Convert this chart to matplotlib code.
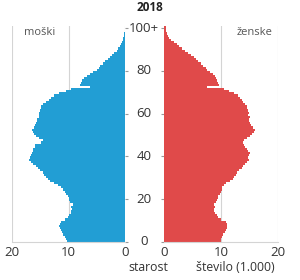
import matplotlib
matplotlib.use("Agg")
from matplotlib import pyplot as plt

plt.rcParams["font.family"] = ["Open Sans", "DejaVu Sans"]

# Population of Slovenia by age, 2018 (thousands).
ages = list(range(101))
men = [10.3, 10.5, 10.6, 10.9, 11.1, 11.3, 11.5, 11.7, 11.6, 11.4,
       10.6, 10.1, 9.9, 9.6, 9.5, 9.4, 9.5, 9.3, 9.8, 9.9,
       9.9, 10.1, 10.4, 10.6, 11.0, 11.3, 11.8, 12.5, 13.2, 13.7,
       14.0, 14.3, 14.6, 15.0, 15.4, 15.8, 16.2, 16.6, 17.0, 16.9,
       16.7, 16.5, 16.3, 16.2, 16.0, 15.9, 14.8, 14.6, 15.3, 15.7,
       16.1, 16.3, 16.4, 16.1, 15.9, 15.7, 15.6, 15.5, 15.2, 15.3,
       15.2, 15.0, 14.9, 14.8, 14.6, 14.0, 13.5, 13.1, 12.6, 11.7,
       10.5, 9.5, 6.2, 7.9, 7.8, 7.6, 7.2, 6.7, 6.2, 5.6,
       5.0, 4.7, 4.4, 3.9, 3.5, 3.1, 2.7, 2.3, 1.9, 1.5,
       1.2, 0.9, 0.7, 0.5, 0.4, 0.3, 0.2, 0.15, 0.1, 0.06,
       0.1]
women = [9.9, 10.0, 10.2, 10.4, 10.7, 10.9, 11.1, 11.0, 11.1, 10.9,
         10.0, 9.4, 9.2, 8.9, 8.8, 8.8, 8.9, 8.7, 9.1, 9.3,
         9.4, 9.5, 9.8, 9.9, 10.1, 10.2, 10.5, 10.9, 11.5, 12.0,
         12.3, 12.6, 12.8, 13.2, 13.6, 13.9, 14.2, 14.6, 14.9, 14.8,
         14.9, 15.0, 14.7, 14.5, 14.2, 14.1, 13.9, 14.0, 14.6, 15.0,
         15.4, 15.7, 15.9, 15.6, 15.3, 15.1, 14.9, 14.9, 15.0, 14.8,
         14.9, 14.7, 14.6, 14.5, 14.2, 13.9, 13.6, 13.3, 13.0, 12.3,
         11.3, 10.5, 7.6, 9.6, 9.4, 9.3, 9.1, 9.0, 8.5, 8.0,
         7.6, 7.3, 6.9, 6.4, 6.0, 5.6, 5.2, 4.8, 4.2, 3.7,
         3.2, 2.7, 2.2, 1.7, 1.2, 0.9, 0.7, 0.5, 0.35, 0.25,
         0.3]
age_ticks = [0, 20, 40, 60, 80, 100]
age_labels = ["0", "20", "40", "60", "80", "100+"]
x_ticks = [0, 10, 20]

blue = "#229ed4"
red = "#e04a4a"
grid = "#d4d4d4"
text = "#333333"

fig = plt.figure(figsize=(3.0, 2.8), dpi=100)
ax_m = fig.add_axes([0.04, 0.136, 0.377, 0.771])
ax_f = fig.add_axes([0.547, 0.136, 0.38, 0.771])

ax_m.barh(ages, men, height=1, align="edge", color=blue, linewidth=0, zorder=2)
ax_f.barh(ages, women, height=1, align="edge", color=red, linewidth=0, zorder=2)

for ax in (ax_m, ax_f):
    ax.set_ylim(0, 101)
    ax.set_xticks(x_ticks)
    ax.set_yticks(age_ticks)
    ax.set_yticklabels([])
    ax.tick_params(axis="x", length=0, labelsize=9.5, labelcolor=text, pad=3)
    ax.tick_params(axis="y", length=2.5, width=0.8, color="#999999")
    ax.grid(axis="x", color=grid, linewidth=0.8, zorder=0)
    for s in ax.spines.values():
        s.set_visible(False)
    ax.spines["bottom"].set_visible(True)
    ax.spines["bottom"].set_color(grid)
    ax.spines["bottom"].set_linewidth(0.8)

ax_m.set_xlim(20, 0)
ax_m.yaxis.tick_right()
ax_f.set_xlim(0, 20)
ax_f.yaxis.tick_left()

# age labels in the gap between the two halves
for a, lab in zip(age_ticks, age_labels):
    y = 0.136 + 0.771 * a / 101
    fig.text(0.48, y, lab, ha="center", va="center", fontsize=9.5, color=text)

fig.text(0.5, 0.972, "2018", ha="center", va="center", fontsize=8.5, fontweight="bold", color="#222222")
fig.text(0.133, 0.885, "moški", ha="center", va="center", fontsize=8, color="#555555")
fig.text(0.85, 0.885, "ženske", ha="center", va="center", fontsize=8, color="#555555")
fig.text(0.493, 0.043, "starost", ha="center", va="center", fontsize=8.8, color=text)
fig.text(0.785, 0.043, "število (1.000)", ha="center", va="center", fontsize=8.8, color=text)

fig.savefig("out.png", dpi=100)
